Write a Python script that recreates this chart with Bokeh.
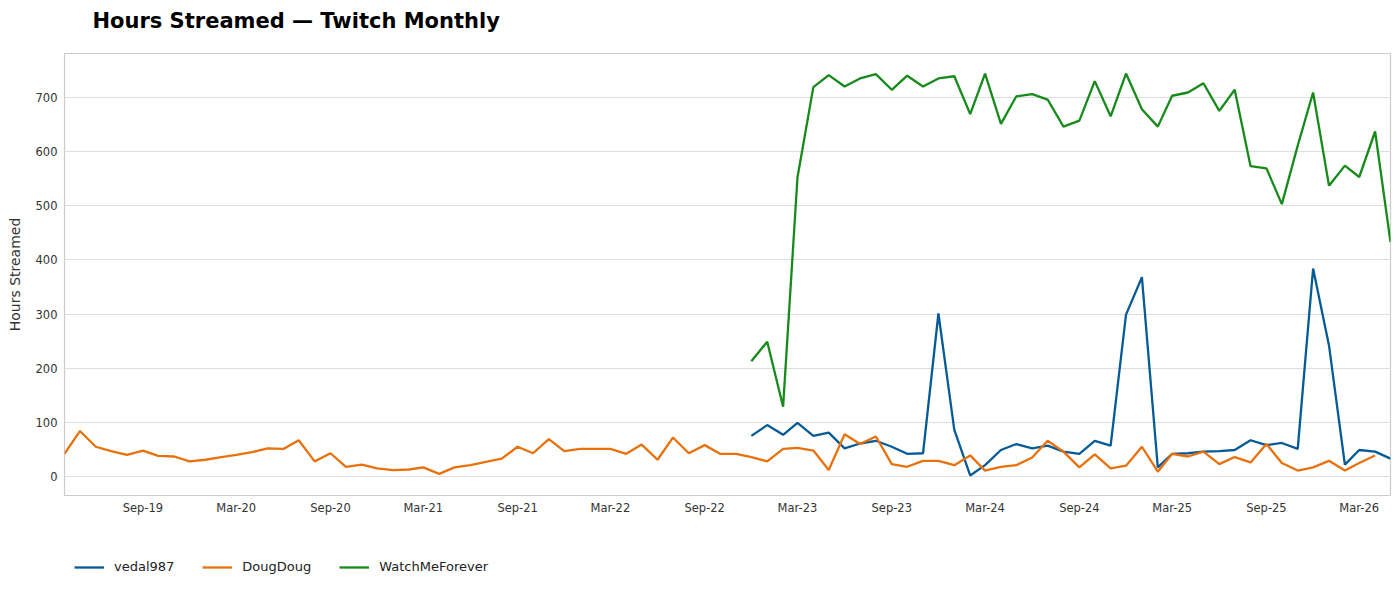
import pandas as pd
from bokeh.plotting import figure
from bokeh.layouts import column
from bokeh.models import FixedTicker, DatetimeTickFormatter, Legend, LegendItem, Range1d
from bokeh.embed import file_html
from bokeh.resources import INLINE

# Months: Apr-2019 .. May-2026 (86 monthly points)
months = pd.date_range("2019-04-01", "2026-05-01", freq="MS")

dougdoug = [42, 84, 55, 47, 40, 48, 38, 37, 28, 31, 36, 40, 45, 52, 51, 67, 28, 43, 18, 22,
            15, 12, 13, 17, 5, 17, 21, 27, 33, 55, 43, 69, 47, 51, 51, 51, 42, 59, 31, 72,
            43, 58, 42, 42, 36, 28, 51, 53, 48, 12, 78, 60, 74, 23, 18, 29, 29, 21, 39, 11,
            18, 21, 35, 66, 46, 17, 41, 15, 20, 55, 9, 42, 37, 46, 23, 36, 26, 60, 25, 11,
            17, 29, 11, 25, 39]
vedal987 = [75, 95, 77, 99, 75, 81, 52, 61, 66, 55, 42, 43, 301, 86, 2, 21, 49, 60, 52, 57,
            46, 42, 66, 57, 299, 368, 17, 42, 43, 46, 47, 49, 67, 58, 62, 51, 384, 242, 22, 49,
            46, 33]
watchmeforever = [213, 249, 129, 552, 719, 741, 720, 735, 743, 714, 740, 720, 735, 739, 669, 744,
                  651, 702, 706, 696, 646, 657, 730, 665, 744, 678, 646, 703, 709, 726, 675, 714,
                  573, 569, 503, 611, 709, 537, 574, 553, 637, 433]

tick_labels = ["Sep-19", "Mar-20", "Sep-20", "Mar-21", "Sep-21", "Mar-22", "Sep-22",
               "Mar-23", "Sep-23", "Mar-24", "Sep-24", "Mar-25", "Sep-25", "Mar-26"]
y_ticks = [0, 100, 200, 300, 400, 500, 600, 700]
series_names = ["vedal987", "DougDoug", "WatchMeForever"]
title_text = "Hours Streamed \u2014 Twitch Monthly"

x_doug = months[:len(dougdoug)]
x_late = months[len(months) - len(vedal987):]

tick_ms = [pd.Timestamp(pd.to_datetime(t, format="%b-%y")).value / 1e6 for t in tick_labels]

c_blue = "#065a96"
c_orange = "#e8710c"
c_green = "#168a1a"
colors = [c_blue, c_orange, c_green]
W = 1392

xr = Range1d(months[0], months[-1])

# ---- title strip ----
tf = figure(width=W, height=40, output_backend="svg", toolbar_location=None,
            x_axis_location=None, y_axis_location=None,
            x_range=Range1d(0, 1), y_range=Range1d(0, 1),
            min_border_left=64, min_border_right=2, min_border_top=32, min_border_bottom=0)
tf.grid.visible = False
tf.outline_line_color = None
tf.title.text = title_text
tf.title.text_font = "DejaVu Sans"
tf.title.text_font_size = "21px"
tf.title.text_font_style = "bold"
tf.title.text_color = "#000000"
tf.title.align = "left"
tf.title.offset = 28
tf.title.standoff = 0

# ---- main chart ----
p = figure(width=W, height=482, x_axis_type="datetime", output_backend="svg",
           toolbar_location=None, x_range=xr, y_range=Range1d(-35, 781),
           min_border_left=64, min_border_right=2, min_border_top=13,
           min_border_bottom=27)

r_v = p.line(x_late, vedal987, line_color=c_blue, line_width=2.3)
r_d = p.line(x_doug, dougdoug, line_color=c_orange, line_width=2.3)
r_w = p.line(x_late, watchmeforever, line_color=c_green, line_width=2.3)

p.xaxis.ticker = FixedTicker(ticks=tick_ms)
fmt = "%b-%y"
p.xaxis.formatter = DatetimeTickFormatter(days=fmt, months=fmt, years=fmt, hours=fmt,
                                          context=None)
p.yaxis.ticker = FixedTicker(ticks=y_ticks)

for ax in (p.xaxis, p.yaxis):
    ax.axis_line_color = None
    ax.major_tick_line_color = None
    ax.minor_tick_line_color = None
    ax.major_tick_out = 0
    ax.major_tick_in = 0
    ax.minor_tick_out = 0
    ax.minor_tick_in = 0
    ax.major_label_text_font = "DejaVu Sans"
    ax.major_label_text_font_size = "11.5px"
    ax.major_label_text_color = "#333333"

p.xaxis.major_label_standoff = 5
p.yaxis.major_label_standoff = 7
p.yaxis.axis_label = "Hours Streamed"
p.yaxis.axis_label_text_font = "DejaVu Sans"
p.yaxis.axis_label_text_font_size = "14px"
p.yaxis.axis_label_text_font_style = "normal"
p.yaxis.axis_label_text_color = "#333333"
p.yaxis.axis_label_standoff = 10

p.xgrid.grid_line_color = None
p.ygrid.grid_line_color = "#dddddd"
p.ygrid.grid_line_width = 1

p.outline_line_color = "#cccccc"
p.outline_line_width = 1.2
p.background_fill_color = "white"
p.border_fill_color = "white"

# ---- legend strip ----
lg = figure(width=W, height=60, output_backend="svg", toolbar_location=None,
            x_axis_location=None, y_axis_location=None, x_axis_type="datetime",
            x_range=xr, y_range=Range1d(5000, 5001),
            min_border_left=0, min_border_right=0, min_border_top=0, min_border_bottom=0)
lg.grid.visible = False
lg.outline_line_color = None

series_x = [x_late, x_doug, x_late]
series_y = [vedal987, dougdoug, watchmeforever]
items = []
for name, col, xs, ys in zip(series_names, colors, series_x, series_y):
    rr = lg.line(xs, ys, line_color=col, line_width=2.3)
    items.append(LegendItem(label=name, renderers=[rr]))

legend = Legend(items=items, orientation="horizontal", location=(10, 8),
                label_text_font="DejaVu Sans", label_text_font_size="13px",
                label_text_color="#222222",
                glyph_width=30, glyph_height=14, spacing=28, label_standoff=10,
                border_line_color=None, background_fill_alpha=0,
                margin=0, padding=5)
lg.add_layout(legend, "center")

layout = column(tf, p, lg, spacing=0)

open("out.html", "w").write(file_html(layout, INLINE))
